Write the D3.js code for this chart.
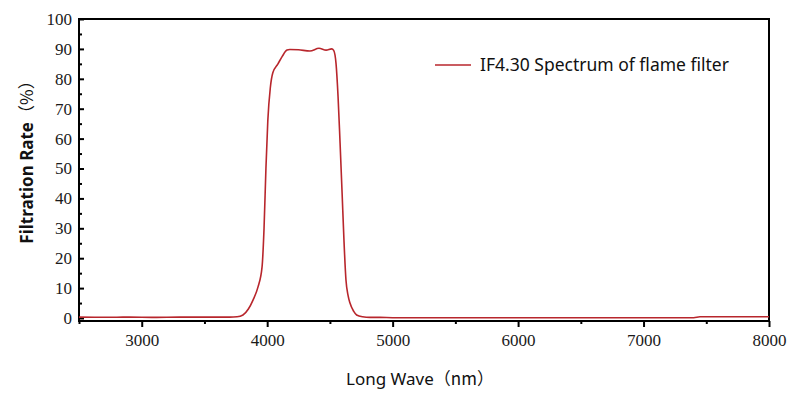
<!DOCTYPE html>
<html>
<head>
<meta charset="utf-8">
<script src="https://cdn.jsdelivr.net/npm/d3@7/dist/d3.min.js"></script>
<style>
  body { margin: 0; background: #fff; }
</style>
</head>
<body>
<script>
// data
var waveLength = [2500, 2700, 2900, 3100, 3300, 3500, 3700, 3760, 3807, 3850, 3887, 3927, 3959, 3975, 3990, 4005,
                  4025, 4045, 4086, 4120, 4158, 4180, 4250, 4341, 4413, 4470, 4514, 4530, 4549, 4565, 4581, 4597,
                  4612, 4628, 4645, 4660, 4690, 4713, 4760, 4820, 4900, 5000, 5500, 6000, 6500, 7000, 7400, 7450, 8000];
var filtration = [0.3, 0.25, 0.3, 0.2, 0.3, 0.3, 0.3, 0.4, 1.0, 3, 6, 10.4, 17, 30, 50, 66,
                  77, 82, 85, 87.5, 89.6, 89.8, 89.7, 89.3, 90.2, 89.6, 90.0, 89.5, 85, 74, 58.5, 42,
                  26, 12.7, 7.5, 5, 2.2, 1, 0.4, 0.2, 0.2, 0.1, 0.1, 0.1, 0.1, 0.1, 0.1, 0.4, 0.4];
var xTicks = [3000, 4000, 5000, 6000, 7000, 8000];
var yTicks = [0, 10, 20, 30, 40, 50, 60, 70, 80, 90, 100];
var seriesName = "IF4.30 Spectrum of flame filter";

var width = 800, height = 394;
var plotLeft = 79, plotRight = 769, plotTop = 19, plotBottom = 321;
var lineColor = "#b8262c";
var serifFont = "'Liberation Serif', 'Times New Roman'";
var sansFont = "'Noto Sans', 'Open Sans', sans-serif";

var svg = d3.select("body").append("svg")
    .attr("width", width)
    .attr("height", height);

var x = d3.scaleLinear().domain([2500, 8000]).range([plotLeft, plotRight]);
var y = d3.scaleLinear().domain([-1, 100]).range([plotBottom, plotTop]);

// ---- axes ----
var xAxis = svg.append("g")
    .attr("transform", "translate(0," + plotBottom + ")")
    .call(d3.axisBottom(x).tickValues(xTicks).tickSize(6).tickPadding(7).tickFormat(d3.format("d")));
var xMinor = svg.append("g")
    .attr("transform", "translate(0," + plotBottom + ")")
    .call(d3.axisBottom(x).tickValues(d3.range(2500, 8001, 500).filter(function(d) { return d % 1000 != 0; }))
        .tickSize(3).tickFormat(""));

var yAxis = svg.append("g")
    .attr("transform", "translate(" + plotLeft + ",0)")
    .call(d3.axisLeft(y).tickValues(yTicks).tickSize(-5).tickPadding(7));
var yMinor = svg.append("g")
    .attr("transform", "translate(" + plotLeft + ",0)")
    .call(d3.axisLeft(y).tickValues(d3.range(5, 100, 10)).tickSize(-3).tickFormat(""));

[xAxis, xMinor, yAxis, yMinor].forEach(function(g) {
    g.attr("font-family", null).attr("font-size", null);
    g.select(".domain").remove();
    g.selectAll("line").attr("stroke", "#000").attr("stroke-width", 2);
    g.selectAll("text")
        .style("font-family", serifFont)
        .style("font-size", "17px")
        .attr("fill", "#1a1a1a");
});

// frame
svg.append("rect")
    .attr("x", plotLeft)
    .attr("y", plotTop)
    .attr("width", plotRight - plotLeft)
    .attr("height", plotBottom - plotTop)
    .attr("fill", "none")
    .attr("stroke", "#000")
    .attr("stroke-width", 2);

// ---- curve ----
var line = d3.line()
    .x(function(d, i) { return x(waveLength[i]); })
    .y(function(d) { return y(d); })
    .curve(d3.curveMonotoneX);

svg.append("path")
    .attr("d", line(filtration))
    .attr("fill", "none")
    .attr("stroke", lineColor)
    .attr("stroke-width", 1.6);

// ---- legend ----
svg.append("line")
    .attr("x1", 435).attr("x2", 471)
    .attr("y1", 65).attr("y2", 65)
    .attr("stroke", lineColor)
    .attr("stroke-width", 1.6);
svg.append("text")
    .attr("x", 480)
    .attr("y", 71)
    .text(seriesName)
    .style("font-family", sansFont)
    .style("font-size", "17.5px")
    .attr("fill", "#111");

// ---- axis titles ----
var xt = svg.append("text")
    .attr("x", 420)
    .attr("y", 385)
    .attr("text-anchor", "middle")
    .style("font-family", sansFont)
    .style("font-size", "17px")
    .attr("fill", "#111");
xt.append("tspan").text("Long Wave");
xt.append("tspan").text("（nm）").style("font-family", "'Noto Sans CJK SC'");

var yt = svg.append("text")
    .attr("transform", "translate(33,158) rotate(-90)")
    .attr("text-anchor", "middle")
    .style("font-family", sansFont)
    .style("font-size", "17px")
    .style("font-weight", "bold")
    .attr("fill", "#111");
yt.append("tspan").text("Filtration Rate");
yt.append("tspan").text("（%）").style("font-family", "'Noto Sans CJK SC'").style("font-weight", "normal");
</script>
</body>
</html>
